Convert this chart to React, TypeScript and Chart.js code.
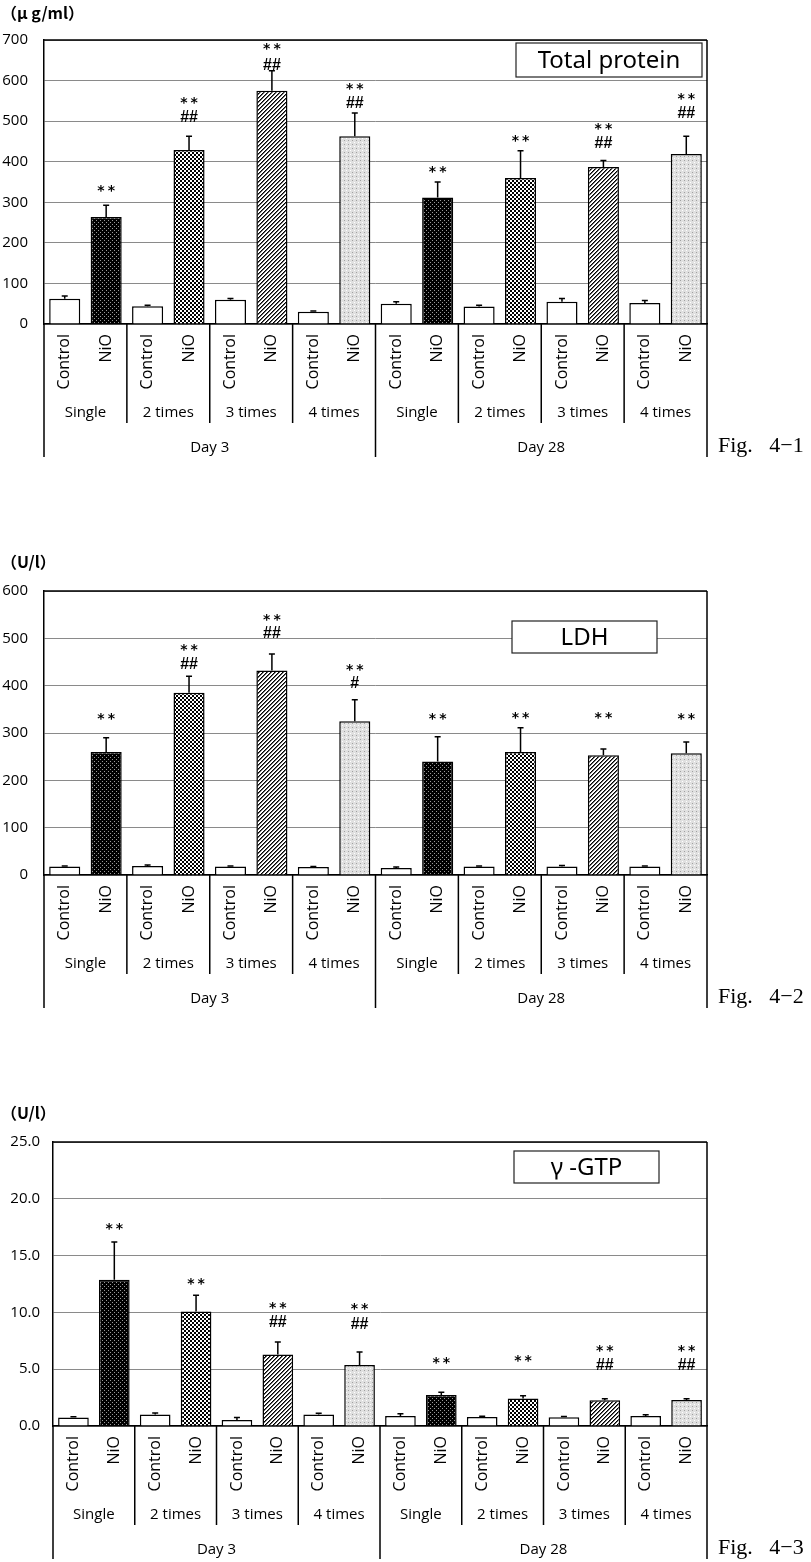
import React, { useEffect, useRef } from 'react';
import { Chart, registerables } from 'chart.js';

Chart.register(...registerables);

// ---------- shared category data ----------
const categories = [
  'Control', 'NiO', 'Control', 'NiO', 'Control', 'NiO', 'Control', 'NiO',
  'Control', 'NiO', 'Control', 'NiO', 'Control', 'NiO', 'Control', 'NiO',
];
const groupLabels = ['Single', '2 times', '3 times', '4 times', 'Single', '2 times', '3 times', '4 times'];
const dayLabels = ['Day 3', 'Day 28'];

// ---------- Fig. 4-1 Total protein (μg/ml) ----------
const tpControl = [62, 44, 60, 30, 50, 43, 55, 52];
const tpControlErr = [7, 2, 3, 2, 5, 3, 8, 6];
const tpNiO = [264, 429, 575, 463, 312, 360, 387, 419];
const tpNiOErr = [29, 34, 49, 57, 38, 67, 16, 44];
const tpStarY = [335, 552, 683, 585, 380, 458, 486, 560];
const tpHashY = [null, 513, 642, 548, null, null, 449, 523];
const tpHashText = ['', '##', '##', '##', '', '', '##', '##'];

// ---------- Fig. 4-2 LDH (U/l) ----------
const ldhControl = [18, 19, 18, 17, 15, 18, 18, 18];
const ldhControlErr = [1, 2, 1, 1, 2, 1, 2, 1];
const ldhNiO = [260, 385, 432, 325, 240, 260, 253, 257];
const ldhNiOErr = [30, 35, 35, 45, 52, 51, 13, 24];
const ldhStarY = [334, 480, 545, 439, 334, 338, 338, 334];
const ldhHashY = [null, 448, 513, 408, null, null, null, null];
const ldhHashText = ['', '##', '##', '#', '', '', '', ''];

// ---------- Fig. 4-3 γ-GTP (U/l) ----------
const gtpControl = [0.75, 1.02, 0.52, 1.02, 0.88, 0.79, 0.76, 0.88];
const gtpControlErr = [0.06, 0.12, 0.22, 0.1, 0.2, 0.07, 0.07, 0.12];
const gtpNiO = [12.87, 10.08, 6.29, 5.38, 2.73, 2.41, 2.26, 2.29];
const gtpNiOErr = [3.33, 1.42, 1.11, 1.14, 0.24, 0.26, 0.14, 0.11];
const gtpStarY = [17.6, 12.7, 10.6, 10.5, 5.8, 5.93, 6.85, 6.85];
const gtpHashY = [null, null, 9.2, 9.06, null, null, 5.5, 5.5];
const gtpHashText = ['', '', '##', '##', '', '', '##', '##'];

type Spec = {
  control: number[]; controlErr: number[]; nio: number[]; nioErr: number[];
  starY: (number | null)[]; hashY: (number | null)[]; hashText: string[];
  yMax: number; yStep: number; decimals: number;
  unit: string; title: string; fig: string;
};

type Layout = {
  height: number; left: number; tickPad: number; unitY: number;
  box: [number, number, number, number]; font: string;
};

const specs: Spec[] = [
  { control: tpControl, controlErr: tpControlErr, nio: tpNiO, nioErr: tpNiOErr, starY: tpStarY, hashY: tpHashY, hashText: tpHashText,
    yMax: 700, yStep: 100, decimals: 0, unit: '（μ g/ml）', title: 'Total protein', fig: 'Fig.   4−1' },
  { control: ldhControl, controlErr: ldhControlErr, nio: ldhNiO, nioErr: ldhNiOErr, starY: ldhStarY, hashY: ldhHashY, hashText: ldhHashText,
    yMax: 600, yStep: 100, decimals: 0, unit: '（U/l）', title: 'LDH', fig: 'Fig.   4−2' },
  { control: gtpControl, controlErr: gtpControlErr, nio: gtpNiO, nioErr: gtpNiOErr, starY: gtpStarY, hashY: gtpHashY, hashText: gtpHashText,
    yMax: 25, yStep: 5, decimals: 1, unit: '（U/l）', title: 'γ -GTP', fig: 'Fig.   4−3' },
];

const layouts: Layout[] = [
  { height: 551, left: 44, tickPad: 16, unitY: 13, box: [516, 43, 702, 77], font: 'Open Sans' },
  { height: 551, left: 44, tickPad: 16, unitY: 11, box: [512, 70, 657, 102], font: 'Open Sans' },
  { height: 460, left: 53, tickPad: 13, unitY: 11, box: [514, 49, 659, 81], font: 'Open Sans' },
];

function tile(w: number, h: number, draw: (g: CanvasRenderingContext2D) => void): CanvasPattern {
  const c = document.createElement('canvas');
  c.width = w; c.height = h;
  const g = c.getContext('2d')!;
  draw(g);
  return g.createPattern(c, 'repeat')!;
}

function makePatterns(): CanvasPattern[] {
  const dark = tile(4, 4, (g) => {
    g.fillStyle = '#000'; g.fillRect(0, 0, 4, 4);
    g.fillStyle = '#9a9a9a'; g.fillRect(0, 0, 1, 1); g.fillRect(2, 2, 1, 1);
  });
  const checker = tile(4, 4, (g) => {
    g.fillStyle = '#fff'; g.fillRect(0, 0, 4, 4);
    g.fillStyle = '#000'; g.fillRect(0, 0, 2, 2); g.fillRect(2, 2, 2, 2);
  });
  const diag = tile(4, 4, (g) => {
    g.fillStyle = '#fff'; g.fillRect(0, 0, 4, 4);
    for (let px = 0; px < 4; px++) {
      for (let py = 0; py < 4; py++) {
        const k = (px + py) % 4;
        if (k === 3) { g.fillStyle = '#000'; g.fillRect(px, py, 1, 1); }
        else if (k === 0) { g.fillStyle = '#666'; g.fillRect(px, py, 1, 1); }
      }
    }
  });
  const light = tile(4, 4, (g) => {
    g.fillStyle = '#e0e0e0'; g.fillRect(0, 0, 4, 4);
    g.fillStyle = '#a0a0a0'; g.fillRect(0, 0, 1, 1);
    g.fillStyle = '#ffffff'; g.fillRect(2, 2, 1, 1);
  });
  return [dark, checker, diag, light];
}

function inkText(ctx: CanvasRenderingContext2D, text: string, x: number, yc: number) {
  const m = ctx.measureText(text);
  ctx.fillText(text, x, yc + (m.actualBoundingBoxAscent - m.actualBoundingBoxDescent) / 2);
}

function makeDecor(spec: Spec, layout: Layout, values: number[], errors: number[]) {
  return {
    id: 'decor',
    afterDatasetsDraw(chart: any) {
      const { ctx, scales } = chart;
      const y = scales.y;
      const meta = chart.getDatasetMeta(0);
      ctx.save();
      ctx.strokeStyle = '#000';
      ctx.lineWidth = 1.5;
      meta.data.forEach((bar: any, i: number) => {
        const yb = y.getPixelForValue(values[i]);
        const yt = y.getPixelForValue(values[i] + errors[i]);
        ctx.beginPath();
        ctx.moveTo(bar.x, yb); ctx.lineTo(bar.x, yt);
        ctx.moveTo(bar.x - 3, yt); ctx.lineTo(bar.x + 3, yt);
        ctx.stroke();
      });
      ctx.fillStyle = '#000';
      ctx.textAlign = 'center';
      ctx.textBaseline = 'alphabetic';
      spec.nio.forEach((_, g) => {
        const bx = meta.data[2 * g + 1].x;
        const sy = spec.starY[g];
        if (sy != null) {
          ctx.font = "bold 14px 'DejaVu Sans'";
          (ctx as any).letterSpacing = '3px';
          inkText(ctx, '**', bx + 1.5, y.getPixelForValue(sy));
          (ctx as any).letterSpacing = '0px';
        }
        const hy = spec.hashY[g];
        if (hy != null && spec.hashText[g]) {
          ctx.font = "bold 16px 'Liberation Sans'";
          inkText(ctx, spec.hashText[g], bx, y.getPixelForValue(hy));
        }
      });
      ctx.restore();
    },
    afterDraw(chart: any) {
      const { ctx, chartArea: ca, scales } = chart;
      const x = scales.x;
      const zero = scales.y.getPixelForValue(0);
      const half = (x.getPixelForValue(1) - x.getPixelForValue(0)) / 2;
      ctx.save();
      ctx.strokeStyle = '#000';
      ctx.lineWidth = 1.5;
      ctx.beginPath();
      // frame top + right, and the vertical separators under the axis
      ctx.moveTo(ca.left, ca.top); ctx.lineTo(ca.right, ca.top);
      ctx.moveTo(ca.right, ca.top); ctx.lineTo(ca.right, zero + 133);
      ctx.moveTo(ca.left, ca.bottom); ctx.lineTo(ca.left, zero + 133);
      const mid = x.getPixelForValue(8) - half;
      ctx.moveTo(mid, zero); ctx.lineTo(mid, zero + 133);
      for (let g = 1; g < 8; g++) {
        if (g === 4) continue;
        const bx = x.getPixelForValue(2 * g) - half;
        ctx.moveTo(bx, zero); ctx.lineTo(bx, zero + 99);
      }
      ctx.stroke();

      ctx.fillStyle = '#000';
      ctx.textAlign = 'center';
      ctx.textBaseline = 'middle';
      ctx.font = `15px '${layout.font}'`;
      groupLabels.forEach((lab, g) => {
        const cx = (x.getPixelForValue(2 * g) + x.getPixelForValue(2 * g + 1)) / 2;
        ctx.fillText(lab, cx, zero + 89);
      });
      dayLabels.forEach((lab, d) => {
        const cx = (x.getPixelForValue(8 * d) + x.getPixelForValue(8 * d + 7)) / 2;
        ctx.fillText(lab, cx, zero + 124);
      });

      // title box
      const [bx1, by1, bx2, by2] = layout.box;
      ctx.fillStyle = '#fff';
      ctx.fillRect(bx1, by1, bx2 - bx1, by2 - by1);
      ctx.strokeStyle = '#222';
      ctx.lineWidth = 1.2;
      ctx.strokeRect(bx1, by1, bx2 - bx1, by2 - by1);
      ctx.fillStyle = '#000';
      ctx.font = "24px 'Noto Sans'";
      ctx.fillText(spec.title, (bx1 + bx2) / 2, (by1 + by2) / 2 + 1);

      // unit
      ctx.textAlign = 'left';
      ctx.font = "bold 16px 'Noto Sans CJK JP'";
      ctx.fillText(spec.unit, 1, layout.unitY);

      // fig label
      ctx.font = "22px 'Liberation Serif'";
      ctx.fillText(spec.fig, 718, zero + 122);
      ctx.restore();
    },
  };
}

function BarPanel({ spec, layout }: { spec: Spec; layout: Layout }) {
  const ref = useRef<HTMLCanvasElement>(null);
  useEffect(() => {
    const canvas = ref.current!;
    const pats = makePatterns();
    const values = spec.control.flatMap((c, i) => [c, spec.nio[i]]);
    const errors = spec.controlErr.flatMap((c, i) => [c, spec.nioErr[i]]);
    const fills = spec.control.flatMap((_, i) => ['#ffffff', pats[i % 4]]);
    const chart = new Chart(canvas, {
      type: 'bar',
      data: {
        labels: categories,
        datasets: [{
          data: values,
          backgroundColor: fills as any,
          borderColor: '#000',
          borderWidth: 1.5,
          barPercentage: 0.75,
          categoryPercentage: 1,
        }],
      },
      options: {
        responsive: false,
        animation: false,
        events: [],
        layout: { padding: { top: 40, left: 0, right: 104, bottom: layout.height - 460 } },
        plugins: { legend: { display: false }, tooltip: { enabled: false } },
        scales: {
          x: {
            offset: true,
            grid: { display: false, drawTicks: false },
            border: { display: true, color: '#000', width: 1.5 },
            ticks: {
              autoSkip: false, minRotation: 90, maxRotation: 90, padding: 10,
              color: '#000', font: { family: layout.font, size: 16 },
            },
            afterFit: (s: any) => { s.height = 136; },
          },
          y: {
            min: 0, max: spec.yMax,
            ticks: {
              stepSize: spec.yStep, padding: layout.tickPad, color: '#000',
              font: { family: layout.font, size: 15 },
              callback: (v: any) => Number(v).toFixed(spec.decimals),
            },
            grid: { color: '#8a8a8a', lineWidth: 1, drawTicks: false },
            border: { color: '#000', width: 1.5 },
            afterFit: (s: any) => { s.width = layout.left; },
          },
        },
      },
      plugins: [makeDecor(spec, layout, values, errors)],
    });
    return () => chart.destroy();
  }, []);
  return <canvas ref={ref} width={811} height={layout.height} style={{ display: 'block' }} />;
}

export default function App() {
  return (
    <div style={{ position: 'absolute', left: 0, top: 0, width: 811, height: 1562, background: '#fff' }}>
      {specs.map((s, i) => (
        <BarPanel key={i} spec={s} layout={layouts[i]} />
      ))}
    </div>
  );
}
